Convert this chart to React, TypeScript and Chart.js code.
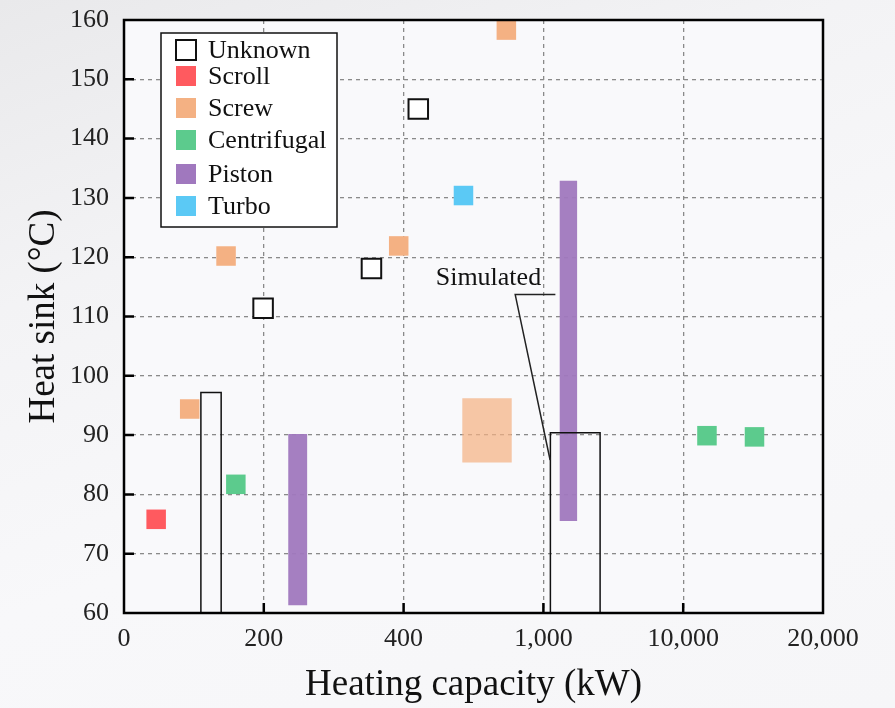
import React, { useEffect, useRef } from 'react';
import { Chart, registerables } from 'chart.js';

Chart.register(...registerables);

// ---------- data ----------
const categories = ['Unknown', 'Scroll', 'Screw', 'Centrifugal', 'Piston', 'Turbo'];
const categoryColors = ['#ffffff', '#ff5a5f', '#f4b183', '#5ccb8d', '#a078be', '#5bc9f5'];

const xTickValues = [0, 200, 400, 1000, 10000, 20000];
const xTickLabels = ['0', '200', '400', '1,000', '10,000', '20,000'];
const yMin = 60;
const yMax = 160;
const yStep = 10;

// single heat pumps (kW, °C)
const unknownX = [199, 354, 463];
const unknownY = [111.4, 118.1, 145.0];
const scrollX = [46];
const scrollY = [75.8];
const screwX = [94, 146, 393, 841];
const screwY = [94.4, 120.2, 121.9, 158.3];
const centrifugalX = [160, 11700, 15100];
const centrifugalY = [81.7, 89.9, 89.7];
const turboX = [657];
const turboY = [130.4];

// ranges (boxes) (kW, °C)
const unknownBoxXMin = [110, 1450];
const unknownBoxXMax = [139, 4650];
const unknownBoxYMin = [60, 60];
const unknownBoxYMax = [97.2, 90.4];
const pistonBoxXMin = [235, 2050];
const pistonBoxXMax = [262, 3170];
const pistonBoxYMin = [61.3, 75.5];
const pistonBoxYMax = [90.2, 132.9];
const screwBoxXMin = [652];
const screwBoxXMax = [864];
const screwBoxYMin = [85.4];
const screwBoxYMax = [96.2];

// annotation
const simulatedText = 'Simulated';
const simulatedTextX = 764;
const simulatedTextY = 116.5;
const simulatedLeaderX = [1771, 879, 1431];
const simulatedLeaderY = [113.7, 113.7, 85.8];

// ---------- helpers ----------
const FONT = "'Liberation Serif', 'Times New Roman', serif";

function toAxis(v: number): number {
  for (let i = 0; i < xTickValues.length - 1; i++) {
    const a = xTickValues[i];
    const b = xTickValues[i + 1];
    if (v <= b || i === xTickValues.length - 2) {
      return i + (v - a) / (b - a);
    }
  }
  return 0;
}

function pointSet(label: string, xs: number[], ys: number[], color: string, outlined: boolean) {
  return {
    type: 'scatter' as const,
    label,
    data: xs.map((x, i) => ({ x: toAxis(x), y: ys[i] })),
    pointStyle: 'rect',
    pointRadius: 13.8,
    pointHoverRadius: 13.8,
    backgroundColor: color,
    borderColor: outlined ? '#111111' : color,
    borderWidth: outlined ? 2 : 0,
    showLine: false,
  };
}

function boxSets(
  label: string,
  x0: number[],
  x1: number[],
  y0: number[],
  y1: number[],
  color: string,
  outlined: boolean
) {
  return x0.map((_, i) => {
    const a = toAxis(x0[i]);
    const b = toAxis(x1[i]);
    return {
      type: 'line' as const,
      label,
      data: [
        { x: a, y: y0[i] },
        { x: b, y: y0[i] },
        { x: b, y: y1[i] },
        { x: a, y: y1[i] },
        { x: a, y: y0[i] },
      ],
      fill: outlined ? false : 'shape',
      backgroundColor: color,
      borderColor: outlined ? '#111111' : 'rgba(0,0,0,0)',
      borderWidth: outlined ? 1.5 : 0,
      pointRadius: 0,
      pointHoverRadius: 0,
      tension: 0,
    };
  });
}

// ---------- plugins ----------
const plotBackground = {
  id: 'plotBackground',
  beforeDraw(chart: any) {
    const { ctx, chartArea: a } = chart;
    ctx.save();
    ctx.fillStyle = '#f9f9fb';
    ctx.fillRect(a.left, a.top, a.right - a.left, a.bottom - a.top);
    ctx.restore();
  },
};

const frameAndTicks = {
  id: 'frameAndTicks',
  afterDatasetsDraw(chart: any) {
    const { ctx, chartArea: a, scales } = chart;
    const xs = scales.x;
    const ys = scales.y;
    ctx.save();
    ctx.strokeStyle = '#000';
    ctx.lineWidth = 2.5;
    ctx.beginPath();
    for (let i = 1; i < xTickValues.length - 1; i++) {
      const px = xs.getPixelForValue(i);
      ctx.moveTo(px, a.bottom);
      ctx.lineTo(px, a.bottom - 10);
    }
    for (let v = yMin + yStep; v < yMax; v += yStep) {
      const py = ys.getPixelForValue(v);
      ctx.moveTo(a.left, py);
      ctx.lineTo(a.left + 10, py);
    }
    ctx.stroke();
    ctx.strokeRect(a.left, a.top, a.right - a.left, a.bottom - a.top);
    ctx.restore();
  },
};

const simulatedAnnotation = {
  id: 'simulatedAnnotation',
  afterDatasetsDraw(chart: any) {
    const { ctx, scales } = chart;
    const xs = scales.x;
    const ys = scales.y;
    ctx.save();
    ctx.strokeStyle = '#222';
    ctx.lineWidth = 1.5;
    ctx.beginPath();
    simulatedLeaderX.forEach((x, i) => {
      const px = xs.getPixelForValue(toAxis(x));
      const py = ys.getPixelForValue(simulatedLeaderY[i]);
      if (i === 0) ctx.moveTo(px, py);
      else ctx.lineTo(px, py);
    });
    ctx.stroke();
    ctx.fillStyle = '#111';
    ctx.font = `26px ${FONT}`;
    ctx.textAlign = 'center';
    ctx.textBaseline = 'middle';
    ctx.fillText(
      simulatedText,
      xs.getPixelForValue(toAxis(simulatedTextX)),
      ys.getPixelForValue(simulatedTextY)
    );
    ctx.restore();
  },
};

const boxedLegend = {
  id: 'boxedLegend',
  afterDraw(chart: any) {
    const { ctx, chartArea: a } = chart;
    const left = a.left + 37;
    const top = a.top + 13;
    const w = 176;
    const h = 194;
    const rowOffsets = [17, 43, 75, 107, 141, 173];
    ctx.save();
    ctx.fillStyle = '#ffffff';
    ctx.fillRect(left, top, w, h);
    ctx.strokeStyle = '#111';
    ctx.lineWidth = 1.5;
    ctx.strokeRect(left, top, w, h);
    ctx.font = `26px ${FONT}`;
    ctx.textAlign = 'left';
    ctx.textBaseline = 'middle';
    categories.forEach((name, i) => {
      const cy = top + rowOffsets[i];
      const mx = left + 15;
      ctx.fillStyle = categoryColors[i];
      ctx.fillRect(mx, cy - 10, 20, 20);
      if (i === 0) {
        ctx.strokeStyle = '#111';
        ctx.lineWidth = 2;
        ctx.strokeRect(mx, cy - 10, 20, 20);
      }
      ctx.fillStyle = '#111';
      ctx.fillText(name, left + 47, cy + 1);
    });
    ctx.restore();
  },
};

export default function App() {
  const canvasRef = useRef<HTMLCanvasElement | null>(null);

  useEffect(() => {
    document.body.style.margin = '0';
    const canvas = canvasRef.current;
    if (!canvas) return;

    const datasets: any[] = [
      pointSet(categories[0], unknownX, unknownY, '#ffffff', true),
      ...boxSets(categories[0], unknownBoxXMin, unknownBoxXMax, unknownBoxYMin, unknownBoxYMax, 'rgba(0,0,0,0)', true),
      pointSet(categories[5], turboX, turboY, categoryColors[5], false),
      pointSet(categories[3], centrifugalX, centrifugalY, categoryColors[3], false),
      pointSet(categories[2], screwX, screwY, categoryColors[2], false),
      pointSet(categories[1], scrollX, scrollY, categoryColors[1], false),
      ...boxSets(categories[4], pistonBoxXMin, pistonBoxXMax, pistonBoxYMin, pistonBoxYMax, 'rgba(160,120,190,0.95)', false),
      ...boxSets(categories[2], screwBoxXMin, screwBoxXMax, screwBoxYMin, screwBoxYMax, 'rgba(244,177,131,0.72)', false),
    ];

    const chart = new Chart(canvas, {
      type: 'scatter',
      data: { datasets },
      options: {
        animation: false,
        responsive: false,
        events: [],
        layout: { padding: { left: 0, top: 20, right: 72, bottom: 0 } },
        plugins: {
          legend: { display: false },
          tooltip: { enabled: false },
        },
        scales: {
          x: {
            type: 'linear',
            min: 0,
            max: xTickValues.length - 1,
            afterFit(scale: any) {
              scale.height = 95;
              scale.paddingLeft = 0;
              scale.paddingRight = 0;
            },
            afterBuildTicks(scale: any) {
              scale.ticks = xTickValues.map((_, i) => ({ value: i }));
            },
            ticks: {
              autoSkip: false,
              maxRotation: 0,
              padding: 11,
              color: '#222',
              font: { family: FONT, size: 26 },
              callback: (v: any) => xTickLabels[Math.round(Number(v))] ?? '',
            },
            grid: { color: '#8a8a8a', lineWidth: 1.3, drawTicks: false },
            border: { display: false, dash: [4, 4] },
            title: {
              display: true,
              text: 'Heating capacity (kW)',
              color: '#111',
              font: { family: FONT, size: 37 },
              padding: { top: 0, bottom: 1 },
            },
          },
          y: {
            type: 'linear',
            min: yMin,
            max: yMax,
            afterFit(scale: any) {
              scale.width = 124;
              scale.paddingTop = 0;
              scale.paddingBottom = 0;
            },
            ticks: {
              stepSize: yStep,
              padding: 15,
              color: '#222',
              font: { family: FONT, size: 26 },
            },
            grid: { color: '#8a8a8a', lineWidth: 1.3, drawTicks: false },
            border: { display: false, dash: [4, 4] },
            title: {
              display: true,
              text: 'Heat sink (°C)',
              color: '#111',
              font: { family: FONT, size: 37 },
              padding: { top: 22, bottom: 0 },
            },
          },
        },
      },
      plugins: [plotBackground, frameAndTicks, simulatedAnnotation, boxedLegend],
    } as any);

    return () => chart.destroy();
  }, []);

  return (
    <div
      style={{
        position: 'absolute',
        left: 0,
        top: 0,
        width: 895,
        height: 708,
        background:
          'linear-gradient(160deg, #e9e9eb 0%, #f3f3f5 30%, #f8f8fa 60%, #f6f6f8 100%)',
      }}
    >
      <canvas ref={canvasRef} width={895} height={708} style={{ display: 'block' }} />
    </div>
  );
}
